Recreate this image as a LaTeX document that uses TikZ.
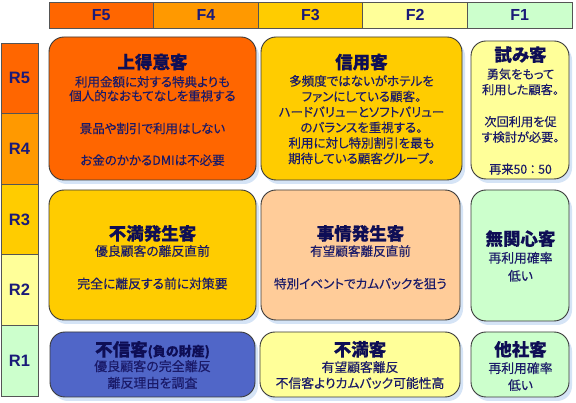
\documentclass[tikz,border=0pt]{standalone}
\usepackage{fontspec}
\setmainfont{Noto Sans CJK JP}[Script=CJK, RawFeature=+palt, FakeBold=0.25]
\newfontfamily\latinfont{Liberation Sans}
\usetikzlibrary{shadows}
\definecolor{cF5}{HTML}{FF6600}
\definecolor{cF4}{HTML}{FF9900}
\definecolor{cF3}{HTML}{FFCC00}
\definecolor{cF2}{HTML}{FFFF99}
\definecolor{cF1}{HTML}{CCFFCC}
\definecolor{cPeach}{HTML}{FFCC99}
\definecolor{cBlue}{HTML}{5066C8}
\definecolor{navy}{HTML}{1A1A78}
\definecolor{titlec}{HTML}{0E0E55}
\definecolor{bodyc}{HTML}{1A1A68}
\definecolor{edgec}{HTML}{3A3A3A}
\definecolor{celledge}{HTML}{555555}
\definecolor{shadowc}{HTML}{D5E4F6}
\newcommand\boxtitle[1]{{\fontsize{17.5}{17.5}\selectfont\bfseries\color{titlec}#1}}
\begin{document}
\begin{tikzpicture}[x=1pt,y=-1pt,
  hcell/.style={draw=celledge, line width=0.8pt, minimum width=104.6, minimum height=26.5,
    inner sep=0, text=navy, font=\latinfont\bfseries\fontsize{16}{16}\selectfont},
  rcell/.style={draw=celledge, line width=0.8pt, minimum width=37, minimum height=70.6,
    inner sep=0, text=navy, font=\latinfont\bfseries\fontsize{16.5}{16.5}\selectfont},
  cbox/.style={draw=edgec, line width=0.9pt, rounded corners=15pt, inner sep=0,
    drop shadow={shadow xshift=3pt, shadow yshift=-4pt, fill=shadowc, opacity=1}},
  txt/.style={align=center, inner sep=0, text=bodyc}
]
\useasboundingbox (0,0) rectangle (576,403);
\fill[white] (0,0) rectangle (576,403);

% header
\node[hcell, fill=cF5] (f5) at (101.3,15.25) {F5};
\node[hcell, fill=cF4] (f4) at (205.9,15.25) {F4};
\node[hcell, fill=cF3] (f3) at (310.5,15.25) {F3};
\node[hcell, fill=cF2] (f2) at (415.1,15.25) {F2};
\node[hcell, fill=cF1] (f1) at (519.7,15.25) {F1};

% left column
\node[rcell, fill=cF5] (r5) at (19.5,78.3) {R5};
\node[rcell, fill=cF4] (r4) at (19.5,148.9) {R4};
\node[rcell, fill=cF3] (r3) at (19.5,219.5) {R3};
\node[rcell, fill=cF2] (r2) at (19.5,290.1) {R2};
\node[rcell, fill=cF1] (r1) at (19.5,360.7) {R1};

% boxes
\node[cbox, fill=cF5, minimum width=207, minimum height=143] (b1) at (152.5,108.5) {};
\node[cbox, fill=cF3, minimum width=201, minimum height=143] (b2) at (361.5,108.5) {};
\node[cbox, fill=cF2, minimum width=98, minimum height=138] (b3) at (520,110) {};
\node[cbox, fill=cF3, minimum width=207, minimum height=130] (b4) at (152.5,255) {};
\node[cbox, fill=cPeach, minimum width=199, minimum height=130] (b5) at (360.5,255) {};
\node[cbox, fill=cF1, minimum width=98, minimum height=131] (b6) at (520,255.5) {};
\node[cbox, fill=cBlue, minimum width=205, minimum height=65] (b8) at (152.5,364.5) {};
\node[cbox, fill=cF2, minimum width=200, minimum height=65] (b9) at (360,364.5) {};
\node[cbox, fill=cF1, minimum width=98, minimum height=65] (b7) at (520,364.5) {};

% texts
\node[txt, font=\fontsize{12.5}{14}\selectfont] (t1) at (152.5,109.8)
 {\boxtitle{上得意客}\\[3.9pt]
  利用金額に対する特典よりも\\
  個人的なおもてなしを重視する\\[18.6pt]
  景品や割引で利用はしない\\[17.7pt]
  お金のかかるDMIは不必要};
\node[txt, font=\fontsize{12.5}{15.5}\selectfont] (t2) at (361.5,109)
 {\boxtitle{信用客}\\[1.5pt]
  多頻度ではないがホテルを\\
  ファンにしている顧客。\\
  ハードバリューとソフトバリュー\\
  のバランスを重視する。\\
  利用に対し特別割引を最も\\
  期待している顧客グループ。};
\node[txt, font=\fontsize{12.2}{15.5}\selectfont] (t3) at (520.5,110.5)
 {\boxtitle{試み客}\\[2pt]
  勇気をもって\\
  利用した顧客。\\[16.5pt]
  次回利用を促\\
  す検討が必要。\\[16.5pt]
  再来50\kern2.5pt：\kern2.5pt50};
\node[txt, font=\fontsize{12.8}{15.8}\selectfont] (t4) at (152.5,257.3)
 {\boxtitle{不満発生客}\\
  優良顧客の離反直前\\[16.8pt]
  完全に離反する前に対策要};
\node[txt, font=\fontsize{12.6}{15.8}\selectfont] (t5) at (360.5,257.3)
 {\boxtitle{事情発生客}\\
  有望顧客離反直前\\[16.8pt]
  特別イベントでカムバックを狙う};
\node[txt, font=\fontsize{12.8}{18}\selectfont] (t6) at (520.5,256)
 {\boxtitle{無関心客}\\[-0.6pt]
  再利用確率\\
  低い};
\node[txt, font=\fontsize{12.8}{17}\selectfont] (t7) at (520.5,366)
 {\boxtitle{他社客}\\
  再利用確率\\
  低い};
\node[txt, font=\fontsize{13}{16}\selectfont] (t8) at (152.5,365)
 {\boxtitle{不信客{\fontsize{13}{13}\selectfont(負の財産)}}\\[-0.9pt]
  優良顧客の完全離反\\[0.7pt]
  離反理由を調査};
\node[txt, font=\fontsize{12.8}{16}\selectfont] (t9) at (360,365)
 {\boxtitle{不満客}\\
  有望顧客離反\\
  不信客よりカムバック可能性高};
\end{tikzpicture}
\end{document}
